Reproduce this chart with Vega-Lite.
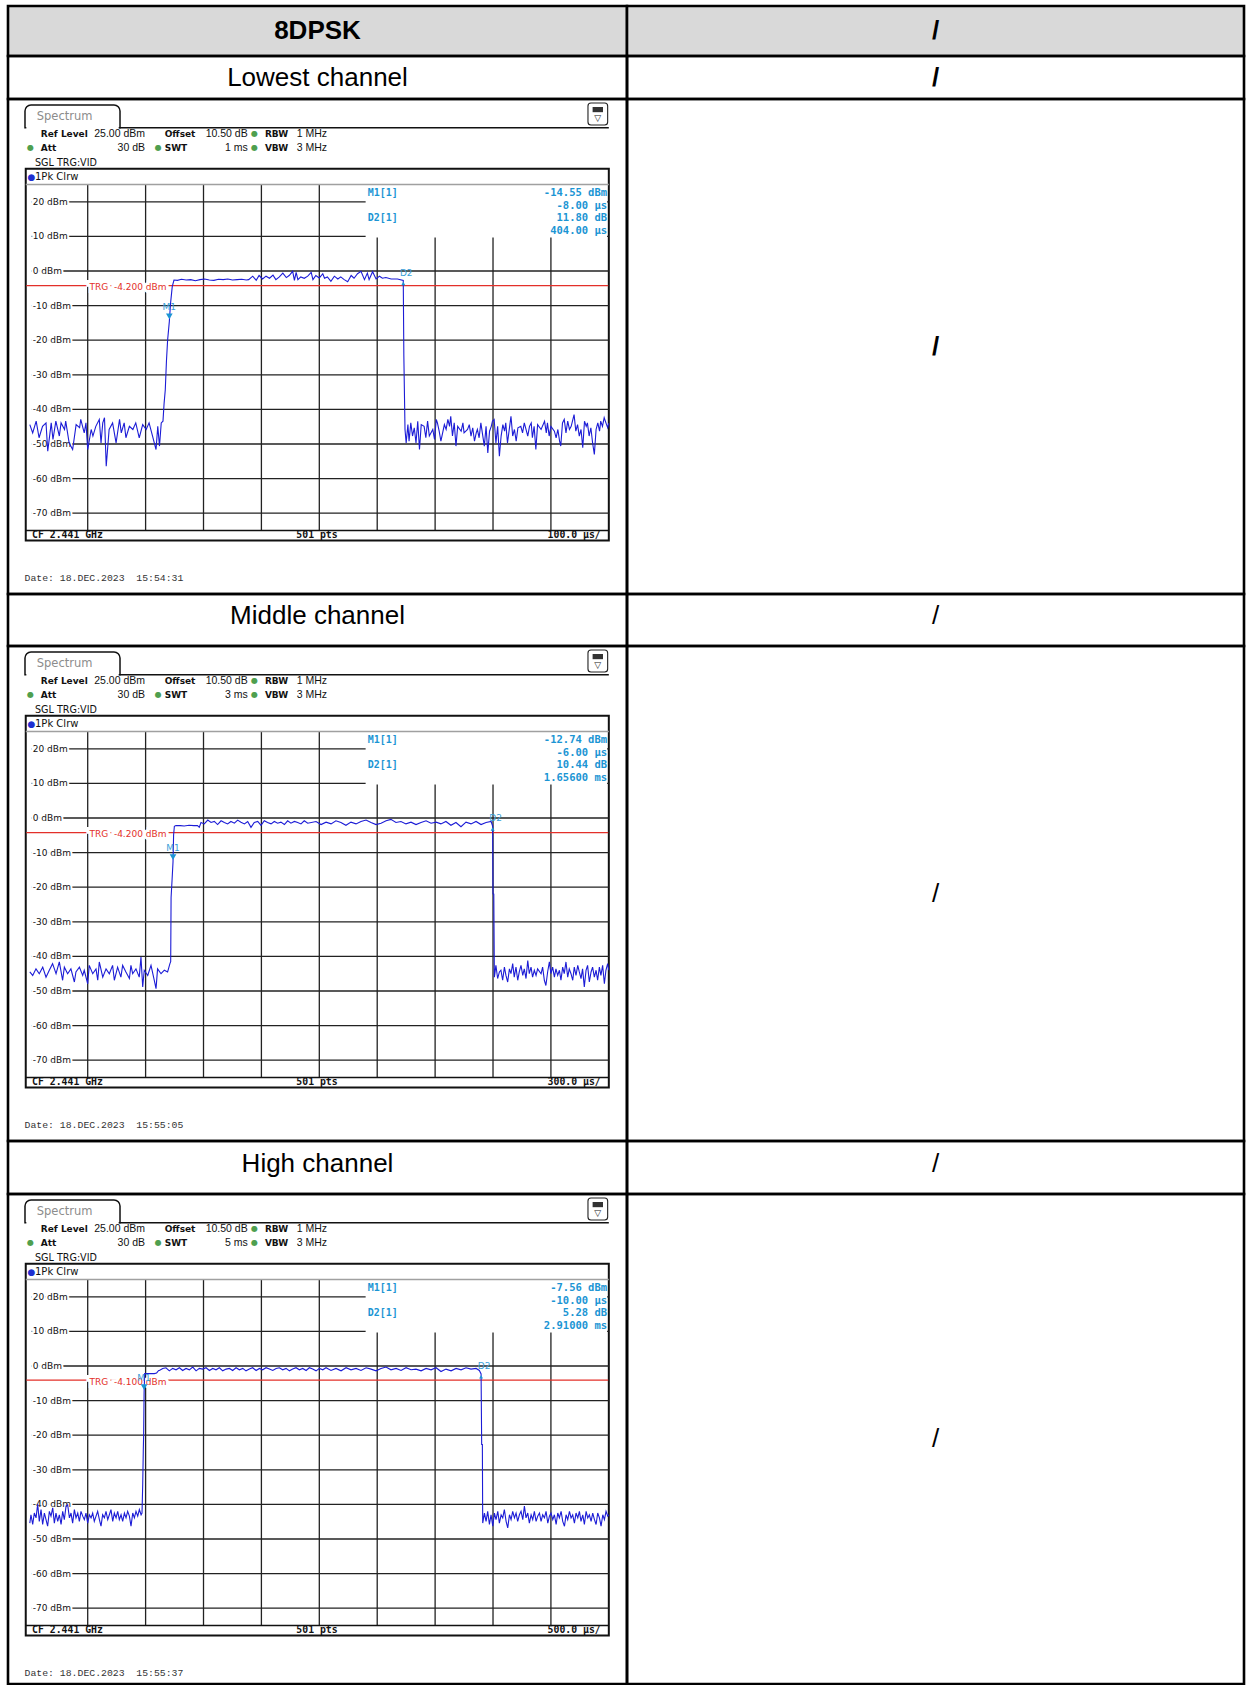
{
  "$schema": "https://vega.github.io/schema/vega-lite/v6.json",
  "padding": {"left": 6, "top": 4, "right": 0, "bottom": 0},
  "background": "#ffffff",
  "columns": 2,
  "spacing": 0,
  "bounds": "flush",
  "align": "each",
  "config": {
    "axis": {"disable": true},
    "legend": {"disable": true},
    "text": {"font": "DejaVu Sans", "fontSize": 9, "color": "#111111"},
    "rule": {"color": "#222222", "strokeWidth": 1.3}
  },
  "datasets": {
    "hgrid": [
      {"dbm": 20, "label": "20 dBm"}, {"dbm": 10, "label": "10 dBm"}, {"dbm": 0, "label": "0 dBm"},
      {"dbm": -10, "label": "-10 dBm"}, {"dbm": -20, "label": "-20 dBm"}, {"dbm": -30, "label": "-30 dBm"},
      {"dbm": -40, "label": "-40 dBm"}, {"dbm": -50, "label": "-50 dBm"}, {"dbm": -60, "label": "-60 dBm"},
      {"dbm": -70, "label": "-70 dBm"}
    ],
    "vgrid": [{"div": 1}, {"div": 2}, {"div": 3}, {"div": 4}, {"div": 5}, {"div": 6}, {"div": 7}, {"div": 8}, {"div": 9}],
    "trace1": [
      {"t":0,"p":-44.4},{"t":5,"p":-46.8},{"t":11,"p":-43.4},{"t":16,"p":-48.2},{"t":22,"p":-44.9},{"t":28,"p":-43.9},{"t":31,"p":-52.1},{"t":37,"p":-43.9},{"t":40,"p":-48.7},{"t":45,"p":-43.4},
      {"t":51,"p":-47.7},{"t":54,"p":-43.9},{"t":60,"p":-45.8},{"t":62,"p":-43.4},{"t":68,"p":-49.7},{"t":74,"p":-51.6},{"t":80,"p":-44.4},{"t":86,"p":-45.3},{"t":88,"p":-42.9},{"t":94,"p":-46.8},
      {"t":97,"p":-43.9},{"t":100,"p":-51.6},{"t":106,"p":-45.8},{"t":109,"p":-47.7},{"t":114,"p":-44.9},{"t":120,"p":-42.9},{"t":123,"p":-49.7},{"t":126,"p":-43.9},{"t":129,"p":-42.4},{"t":132,"p":-56.4},
      {"t":137,"p":-45.8},{"t":143,"p":-43.9},{"t":149,"p":-49.7},{"t":155,"p":-42.9},{"t":158,"p":-46.8},{"t":163,"p":-43.9},{"t":166,"p":-48.2},{"t":172,"p":-44.9},{"t":178,"p":-45.8},{"t":183,"p":-43.9},
      {"t":189,"p":-48.2},{"t":195,"p":-44.4},{"t":201,"p":-45.8},{"t":206,"p":-43.9},{"t":212,"p":-47.7},{"t":218,"p":-51.6},{"t":221,"p":-44.9},{"t":224,"p":-50.6},{"t":227,"p":-43.9},{"t":230,"p":-43.4},
      {"t":232,"p":-38.1},{"t":234,"p":-34.3},{"t":236,"p":-26},{"t":238,"p":-20},{"t":241,"p":-14.55},{"t":243,"p":-9.5},{"t":246,"p":-4.5},{"t":249,"p":-2.6},
      {"t":255,"p":-2.7},{"t":262,"p":-2.4},{"t":270,"p":-2.6},{"t":278,"p":-2.5},{"t":286,"p":-2.8},{"t":294,"p":-2.5},{"t":302,"p":-2.3},{"t":310,"p":-2.6},{"t":318,"p":-2.7},{"t":326,"p":-2.4},
      {"t":334,"p":-2.5},{"t":342,"p":-2.3},{"t":350,"p":-2.6},{"t":358,"p":-2.5},{"t":366,"p":-2.4},{"t":374,"p":-2.6},{"t":378,"p":-2.5},
      {"t":385,"p":-1.5},{"t":391,"p":-2.7},{"t":396,"p":-1.3},{"t":402,"p":-2.3},{"t":408,"p":-1.5},{"t":414,"p":-2.1},{"t":420,"p":-1.2},{"t":425,"p":-2.5},{"t":431,"p":-1.7},{"t":437,"p":-0.6},
      {"t":443,"p":-1.9},{"t":448,"p":-1.3},{"t":454,"p":-0.1},{"t":457,"p":-2.7},{"t":460,"p":-0.4},{"t":463,"p":-2.5},{"t":468,"p":-1.7},{"t":474,"p":-2.1},{"t":480,"p":-1.5},{"t":486,"p":-0.4},
      {"t":489,"p":-2.5},{"t":494,"p":-1.3},{"t":500,"p":-2.0},{"t":506,"p":-0.8},{"t":509,"p":-2.1},{"t":514,"p":-1.7},{"t":520,"p":-3.0},{"t":526,"p":-1.5},{"t":532,"p":-2.3},{"t":537,"p":-1.7},
      {"t":543,"p":-2.5},{"t":549,"p":-3.1},{"t":555,"p":-1.3},{"t":560,"p":-2.1},{"t":566,"p":-0.8},{"t":572,"p":-0.1},{"t":578,"p":-2.5},{"t":583,"p":-0.6},{"t":586,"p":-2.5},{"t":592,"p":-0.2},
      {"t":598,"p":-2.3},{"t":604,"p":-1.5},{"t":609,"p":-2.1},{"t":615,"p":-1.9},{"t":624,"p":-2.3},{"t":635,"p":-2.3},{"t":645,"p":-2.75},
      {"t":646,"p":-24.6},{"t":648,"p":-45.8},
      {"t":650,"p":-49.7},{"t":653,"p":-44.4},{"t":655,"p":-49.2},{"t":658,"p":-43.9},{"t":661,"p":-47.7},{"t":664,"p":-45.3},{"t":667,"p":-49.7},{"t":670,"p":-43.4},{"t":673,"p":-51.6},{"t":676,"p":-44.4},
      {"t":681,"p":-44.9},{"t":684,"p":-48.2},{"t":687,"p":-43.4},{"t":690,"p":-47.7},{"t":696,"p":-45.8},{"t":699,"p":-48.7},{"t":702,"p":-42.9},{"t":704,"p":-43.9},{"t":707,"p":-46.3},{"t":710,"p":-49.2},
      {"t":716,"p":-44.4},{"t":719,"p":-45.8},{"t":722,"p":-42.9},{"t":725,"p":-44.9},{"t":727,"p":-42.0},{"t":730,"p":-47.7},{"t":733,"p":-43.9},{"t":736,"p":-50.6},{"t":739,"p":-44.9},{"t":745,"p":-46.3},
      {"t":748,"p":-43.9},{"t":750,"p":-46.8},{"t":756,"p":-45.8},{"t":759,"p":-44.4},{"t":762,"p":-47.7},{"t":765,"p":-45.3},{"t":768,"p":-49.2},{"t":771,"p":-46.8},{"t":773,"p":-45.8},{"t":776,"p":-48.2},
      {"t":779,"p":-43.9},{"t":782,"p":-47.3},{"t":785,"p":-50.6},{"t":788,"p":-44.9},{"t":791,"p":-52.6},{"t":794,"p":-46.3},{"t":797,"p":-44.9},{"t":799,"p":-43.4},{"t":802,"p":-42.9},{"t":805,"p":-49.7},
      {"t":808,"p":-44.9},{"t":811,"p":-53.5},{"t":814,"p":-47.7},{"t":817,"p":-44.4},{"t":820,"p":-46.3},{"t":822,"p":-43.9},{"t":825,"p":-49.7},{"t":831,"p":-42.0},{"t":834,"p":-47.7},{"t":837,"p":-45.8},
      {"t":840,"p":-49.2},{"t":843,"p":-45.3},{"t":848,"p":-44.9},{"t":851,"p":-46.8},{"t":854,"p":-43.9},{"t":857,"p":-45.8},{"t":860,"p":-47.7},{"t":863,"p":-44.9},{"t":866,"p":-43.9},{"t":868,"p":-48.2},
      {"t":871,"p":-44.9},{"t":874,"p":-51.6},{"t":877,"p":-44.4},{"t":883,"p":-45.8},{"t":889,"p":-43.4},{"t":892,"p":-46.8},{"t":894,"p":-43.9},{"t":897,"p":-47.7},{"t":900,"p":-44.9},{"t":906,"p":-46.3},
      {"t":909,"p":-48.2},{"t":912,"p":-45.8},{"t":915,"p":-49.2},{"t":917,"p":-50.6},{"t":920,"p":-43.9},{"t":923,"p":-42.9},{"t":926,"p":-46.8},{"t":929,"p":-43.4},{"t":932,"p":-45.8},{"t":935,"p":-44.9},
      {"t":940,"p":-41.5},{"t":943,"p":-46.3},{"t":946,"p":-44.4},{"t":949,"p":-47.7},{"t":952,"p":-45.8},{"t":955,"p":-51.1},{"t":958,"p":-43.4},{"t":961,"p":-44.9},{"t":963,"p":-43.9},{"t":966,"p":-47.7},
      {"t":969,"p":-45.3},{"t":972,"p":-49.7},{"t":975,"p":-53.0},{"t":978,"p":-45.8},{"t":981,"p":-43.9},{"t":984,"p":-46.3},{"t":986,"p":-43.4},{"t":989,"p":-44.9},{"t":992,"p":-42.4},{"t":995,"p":-43.9},
      {"t":998,"p":-45.3},{"t":1000,"p":-44.0}
    ],
    "trace2": [
      {"t":0,"p":-44.5},{"t":15,"p":-45.5},{"t":32,"p":-43.6},{"t":49,"p":-45.0},{"t":67,"p":-43.1},{"t":84,"p":-46.0},{"t":101,"p":-44.0},{"t":118,"p":-42.1},{"t":136,"p":-45.0},{"t":153,"p":-41.6},
      {"t":170,"p":-46.9},{"t":179,"p":-43.1},{"t":196,"p":-45.0},{"t":213,"p":-43.6},{"t":231,"p":-47.4},{"t":239,"p":-44.5},{"t":257,"p":-43.1},{"t":274,"p":-45.5},{"t":282,"p":-44.0},{"t":300,"p":-47.9},
      {"t":308,"p":-42.6},{"t":326,"p":-45.0},{"t":343,"p":-43.6},{"t":352,"p":-46.9},{"t":360,"p":-41.6},{"t":378,"p":-46.0},{"t":395,"p":-43.6},{"t":412,"p":-45.0},{"t":429,"p":-42.6},{"t":438,"p":-46.9},
      {"t":455,"p":-43.1},{"t":472,"p":-46.0},{"t":481,"p":-42.6},{"t":498,"p":-44.5},{"t":516,"p":-46.4},{"t":524,"p":-42.6},{"t":533,"p":-45.0},{"t":550,"p":-43.6},{"t":567,"p":-46.0},{"t":576,"p":-40.2},
      {"t":585,"p":-48.8},{"t":593,"p":-44.0},{"t":611,"p":-45.5},{"t":628,"p":-42.6},{"t":645,"p":-46.9},{"t":654,"p":-49.3},{"t":662,"p":-43.6},{"t":680,"p":-45.0},{"t":697,"p":-44.0},{"t":714,"p":-44.5},
      {"t":726,"p":-42.1},{"t":730,"p":-41.5},{"t":732,"p":-23},{"t":737,"p":-18},{"t":742,"p":-12.74},{"t":745,"p":-5},{"t":749,"p":-2.4},
      {"t":757,"p":-2.2},{"t":780,"p":-2.2},{"t":800,"p":-2.3},{"t":825,"p":-2.1},{"t":850,"p":-2.2},{"t":869,"p":-2.2},
      {"t":878,"p":-2.7},{"t":887,"p":-1.3},{"t":904,"p":-1.7},{"t":922,"p":-0.6},{"t":939,"p":-1.3},{"t":956,"p":-1.0},{"t":973,"p":-1.9},{"t":991,"p":-0.8},{"t":1008,"p":-1.3},{"t":1025,"p":-1.7},
      {"t":1042,"p":-1.0},{"t":1060,"p":-1.5},{"t":1077,"p":-0.6},{"t":1094,"p":-1.2},{"t":1112,"p":-1.7},{"t":1129,"p":-1.0},{"t":1146,"p":-2.7},{"t":1163,"p":-1.3},{"t":1181,"p":-1.0},{"t":1198,"p":-2.1},
      {"t":1215,"p":-0.8},{"t":1232,"p":-1.3},{"t":1250,"p":-1.7},{"t":1267,"p":-1.0},{"t":1284,"p":-1.5},{"t":1301,"p":-1.2},{"t":1319,"p":-1.9},{"t":1336,"p":-0.8},{"t":1353,"p":-1.5},{"t":1371,"p":-1.0},
      {"t":1388,"p":-1.3},{"t":1405,"p":-1.7},{"t":1422,"p":-0.8},{"t":1440,"p":-1.5},{"t":1483,"p":-1.0},{"t":1509,"p":-1.9},{"t":1535,"p":-1.2},{"t":1561,"p":-1.7},{"t":1586,"p":-0.8},{"t":1612,"p":-1.3},
      {"t":1638,"p":-2.1},{"t":1664,"p":-1.2},{"t":1690,"p":-1.7},{"t":1716,"p":-1.0},{"t":1742,"p":-0.6},{"t":1768,"p":-1.3},{"t":1794,"p":-1.9},{"t":1820,"p":-1.5},{"t":1846,"p":-0.8},{"t":1871,"p":-0.4},
      {"t":1897,"p":-1.3},{"t":1923,"p":-1.0},{"t":1949,"p":-1.7},{"t":1975,"p":-1.2},{"t":2001,"p":-1.9},{"t":2027,"p":-1.3},{"t":2053,"p":-0.8},{"t":2079,"p":-1.5},{"t":2105,"p":-1.2},{"t":2130,"p":-1.7},
      {"t":2156,"p":-1.0},{"t":2182,"p":-2.1},{"t":2208,"p":-1.3},{"t":2234,"p":-2.5},{"t":2260,"p":-1.2},{"t":2286,"p":-1.7},{"t":2312,"p":-1.0},{"t":2338,"p":-1.9},{"t":2364,"p":-1.3},{"t":2390,"p":-1.0},
      {"t":2398,"p":-2.3},{"t":2400,"p":-21.9},{"t":2404,"p":-22.0},{"t":2407,"p":-46.0},
      {"t":2415,"p":-42.6},{"t":2424,"p":-46.4},{"t":2433,"p":-44.5},{"t":2441,"p":-44.0},{"t":2450,"p":-46.9},{"t":2459,"p":-43.1},{"t":2467,"p":-45.5},{"t":2476,"p":-47.4},{"t":2485,"p":-43.6},{"t":2493,"p":-45.0},
      {"t":2502,"p":-42.1},{"t":2510,"p":-46.0},{"t":2519,"p":-43.1},{"t":2528,"p":-46.9},{"t":2536,"p":-44.5},{"t":2545,"p":-42.6},{"t":2554,"p":-45.5},{"t":2562,"p":-43.6},{"t":2571,"p":-46.4},{"t":2580,"p":-41.2},
      {"t":2588,"p":-45.0},{"t":2597,"p":-43.1},{"t":2605,"p":-46.0},{"t":2614,"p":-44.0},{"t":2623,"p":-45.5},{"t":2631,"p":-43.6},{"t":2649,"p":-45.0},{"t":2657,"p":-43.1},{"t":2666,"p":-46.9},{"t":2674,"p":-48.4},
      {"t":2683,"p":-44.5},{"t":2692,"p":-41.6},{"t":2700,"p":-45.0},{"t":2709,"p":-43.1},{"t":2718,"p":-46.0},{"t":2726,"p":-43.6},{"t":2735,"p":-45.5},{"t":2744,"p":-44.0},{"t":2752,"p":-46.9},{"t":2761,"p":-43.1},
      {"t":2769,"p":-45.0},{"t":2778,"p":-41.6},{"t":2787,"p":-46.0},{"t":2795,"p":-43.6},{"t":2804,"p":-45.0},{"t":2813,"p":-46.9},{"t":2821,"p":-43.1},{"t":2830,"p":-45.5},{"t":2839,"p":-42.6},{"t":2847,"p":-44.5},
      {"t":2856,"p":-46.4},{"t":2864,"p":-43.6},{"t":2873,"p":-48.8},{"t":2882,"p":-44.0},{"t":2890,"p":-42.6},{"t":2899,"p":-47.4},{"t":2908,"p":-44.5},{"t":2916,"p":-43.1},{"t":2925,"p":-46.0},{"t":2934,"p":-44.0},
      {"t":2942,"p":-46.9},{"t":2951,"p":-43.1},{"t":2959,"p":-45.5},{"t":2968,"p":-42.6},{"t":2977,"p":-47.9},{"t":2985,"p":-44.0},{"t":2994,"p":-42.1},{"t":3000,"p":-44.0}
    ],
    "trace3": [
      {"t":0,"p":-45.4},{"t":10,"p":-43.0},{"t":25,"p":-45.8},{"t":39,"p":-42.5},{"t":54,"p":-43.9},{"t":68,"p":-39.9},{"t":82,"p":-44.9},{"t":97,"p":-41.5},{"t":111,"p":-45.8},{"t":126,"p":-42.5},
      {"t":140,"p":-44.4},{"t":154,"p":-46.3},{"t":169,"p":-42.0},{"t":183,"p":-43.4},{"t":198,"p":-41.0},{"t":212,"p":-45.4},{"t":226,"p":-42.5},{"t":241,"p":-44.9},{"t":255,"p":-43.0},{"t":270,"p":-45.8},
      {"t":284,"p":-42.0},{"t":298,"p":-44.4},{"t":313,"p":-40.5},{"t":327,"p":-40.1},{"t":342,"p":-43.9},{"t":356,"p":-42.5},{"t":370,"p":-45.4},{"t":385,"p":-41.5},{"t":399,"p":-43.9},{"t":414,"p":-42.5},
      {"t":428,"p":-44.9},{"t":442,"p":-42.0},{"t":457,"p":-43.4},{"t":471,"p":-44.4},{"t":485,"p":-42.5},{"t":500,"p":-45.4},{"t":514,"p":-43.0},{"t":529,"p":-43.9},{"t":543,"p":-42.5},{"t":557,"p":-44.9},
      {"t":572,"p":-43.4},{"t":586,"p":-42.0},{"t":601,"p":-44.4},{"t":615,"p":-46.3},{"t":629,"p":-43.0},{"t":644,"p":-43.9},{"t":658,"p":-42.0},{"t":673,"p":-44.4},{"t":687,"p":-43.0},{"t":701,"p":-41.5},
      {"t":716,"p":-44.9},{"t":730,"p":-42.5},{"t":745,"p":-43.9},{"t":759,"p":-42.0},{"t":773,"p":-44.4},{"t":788,"p":-43.0},{"t":802,"p":-44.9},{"t":817,"p":-42.5},{"t":831,"p":-43.9},{"t":845,"p":-42.0},
      {"t":860,"p":-43.4},{"t":874,"p":-46.3},{"t":889,"p":-42.5},{"t":903,"p":-43.9},{"t":917,"p":-42.0},{"t":932,"p":-43.4},{"t":946,"p":-41.5},{"t":961,"p":-43.0},{"t":969,"p":-42.5},
      {"t":975,"p":-34.3},{"t":980,"p":-24.6},{"t":983,"p":-20},{"t":987,"p":-7.56},{"t":992,"p":-2.2},{"t":1075,"p":-2.2},{"t":1095,"p":-2.0},{"t":1113,"p":-1.3},
      {"t":1119,"p":-1.3},{"t":1148,"p":-0.7},{"t":1176,"p":-0.5},{"t":1205,"p":-1.4},{"t":1234,"p":-0.7},{"t":1263,"p":-1.1},{"t":1292,"p":-0.5},{"t":1320,"p":-1.3},{"t":1349,"p":-0.7},{"t":1378,"p":-1.1},
      {"t":1407,"p":-0.3},{"t":1436,"p":-1.4},{"t":1464,"p":-0.7},{"t":1493,"p":-0.9},{"t":1522,"p":-0.5},{"t":1551,"p":-1.3},{"t":1580,"p":-0.7},{"t":1608,"p":-1.1},{"t":1637,"p":-0.5},{"t":1666,"p":-1.4},
      {"t":1695,"p":-0.9},{"t":1724,"p":-0.7},{"t":1752,"p":-1.3},{"t":1781,"p":-0.5},{"t":1810,"p":-1.1},{"t":1839,"p":-0.7},{"t":1867,"p":-1.4},{"t":1896,"p":-0.9},{"t":1925,"p":-0.5},{"t":1954,"p":-1.3},
      {"t":1983,"p":-0.7},{"t":2011,"p":-1.1},{"t":2040,"p":-0.5},{"t":2069,"p":-0.9},{"t":2098,"p":-1.3},{"t":2127,"p":-0.7},{"t":2155,"p":-0.5},{"t":2184,"p":-1.1},{"t":2213,"p":-0.7},{"t":2242,"p":-1.4},
      {"t":2270,"p":-0.9},{"t":2299,"p":-0.5},{"t":2328,"p":-1.1},{"t":2357,"p":-0.7},{"t":2386,"p":-1.3},{"t":2414,"p":-0.5},{"t":2443,"p":-0.9},{"t":2472,"p":-1.4},{"t":2501,"p":-0.7},{"t":2530,"p":-1.1},
      {"t":2558,"p":-0.5},{"t":2601,"p":-1.3},{"t":2644,"p":-0.7},{"t":2688,"p":-1.4},{"t":2731,"p":-0.5},{"t":2774,"p":-1.1},{"t":2817,"p":-0.7},{"t":2860,"p":-1.3},{"t":2904,"p":-0.5},{"t":2947,"p":-0.9},
      {"t":2990,"p":-1.4},{"t":3033,"p":-0.7},{"t":3076,"p":-0.3},{"t":3119,"p":-1.1},{"t":3163,"p":-0.7},{"t":3206,"p":-1.3},{"t":3249,"p":-0.5},{"t":3292,"p":-1.1},{"t":3335,"p":-0.9},{"t":3379,"p":-1.4},
      {"t":3422,"p":-0.7},{"t":3465,"p":-1.1},{"t":3508,"p":-0.5},{"t":3551,"p":-1.6},{"t":3594,"p":-0.9},{"t":3638,"p":-1.4},{"t":3681,"p":-0.7},{"t":3724,"p":-1.1},{"t":3767,"p":-0.5},{"t":3810,"p":-0.9},
      {"t":3854,"p":-0.7},{"t":3882,"p":-1.3},{"t":3897,"p":-2.28},{"t":3902,"p":-22.7},{"t":3908,"p":-22.7},{"t":3911,"p":-45.4},
      {"t":3926,"p":-42.5},{"t":3940,"p":-44.9},{"t":3954,"p":-42.0},{"t":3969,"p":-45.8},{"t":3983,"p":-43.0},{"t":3998,"p":-46.3},{"t":4012,"p":-42.5},{"t":4026,"p":-44.4},{"t":4041,"p":-42.0},{"t":4055,"p":-45.4},
      {"t":4070,"p":-43.0},{"t":4084,"p":-43.9},{"t":4098,"p":-41.5},{"t":4113,"p":-44.9},{"t":4127,"p":-46.8},{"t":4142,"p":-43.0},{"t":4156,"p":-44.4},{"t":4170,"p":-42.0},{"t":4185,"p":-43.9},{"t":4199,"p":-42.5},
      {"t":4213,"p":-44.9},{"t":4228,"p":-43.0},{"t":4242,"p":-42.0},{"t":4257,"p":-44.4},{"t":4271,"p":-40.5},{"t":4285,"p":-43.9},{"t":4300,"p":-42.5},{"t":4314,"p":-45.4},{"t":4329,"p":-43.0},{"t":4343,"p":-44.4},
      {"t":4357,"p":-42.0},{"t":4372,"p":-44.9},{"t":4386,"p":-43.4},{"t":4401,"p":-42.5},{"t":4415,"p":-44.9},{"t":4429,"p":-43.0},{"t":4444,"p":-43.9},{"t":4458,"p":-42.0},{"t":4473,"p":-45.4},{"t":4487,"p":-43.4},
      {"t":4501,"p":-42.5},{"t":4516,"p":-44.4},{"t":4530,"p":-43.0},{"t":4545,"p":-45.8},{"t":4559,"p":-42.5},{"t":4573,"p":-43.9},{"t":4588,"p":-42.0},{"t":4602,"p":-44.9},{"t":4617,"p":-46.3},{"t":4631,"p":-43.0},
      {"t":4645,"p":-44.4},{"t":4660,"p":-42.0},{"t":4674,"p":-43.9},{"t":4688,"p":-43.0},{"t":4703,"p":-45.4},{"t":4717,"p":-42.5},{"t":4732,"p":-43.9},{"t":4746,"p":-42.0},{"t":4760,"p":-44.9},{"t":4775,"p":-43.0},
      {"t":4789,"p":-45.8},{"t":4804,"p":-42.0},{"t":4818,"p":-43.9},{"t":4832,"p":-43.0},{"t":4847,"p":-44.9},{"t":4861,"p":-42.5},{"t":4876,"p":-44.4},{"t":4890,"p":-45.8},{"t":4904,"p":-42.5},{"t":4919,"p":-43.9},
      {"t":4933,"p":-46.3},{"t":4948,"p":-43.0},{"t":4962,"p":-44.4},{"t":4976,"p":-42.0},{"t":4991,"p":-43.4},{"t":5000,"p":-43.0}
    ]
  },
  "concat": [
    {"width": 619, "height": 50, "view": {"stroke": "#000000", "strokeWidth": 2.6, "fill": "#d9d9d9"},
     "data": {"values": [{"label": "8DPSK"}]},
     "mark": {"type": "text", "font": "Liberation Sans", "fontSize": 26, "fontWeight": "bold", "color": "#000000"},
     "encoding": {"text": {"field": "label"}}},
    {"width": 617, "height": 50, "view": {"stroke": "#000000", "strokeWidth": 2.6, "fill": "#d9d9d9"},
     "data": {"values": [{"label": "/"}]},
     "mark": {"type": "text", "font": "Liberation Sans", "fontSize": 26, "fontWeight": "bold", "color": "#000000"},
     "encoding": {"text": {"field": "label"}}},
    {"width": 619, "height": 43, "view": {"stroke": "#000000", "strokeWidth": 2.6},
     "data": {"values": [{"label": "Lowest channel"}]},
     "mark": {"type": "text", "font": "Liberation Sans", "fontSize": 26, "color": "#000000"},
     "encoding": {"text": {"field": "label"}}},
    {"width": 617, "height": 43, "view": {"stroke": "#000000", "strokeWidth": 2.6},
     "data": {"values": [{"label": "/"}]},
     "mark": {"type": "text", "font": "Liberation Sans", "fontSize": 26, "fontWeight": "bold", "color": "#000000"},
     "encoding": {"text": {"field": "label"}}},
    {
      "width": 619, "height": 495, "view": {"stroke": "#000000", "strokeWidth": 2.6},
      "resolve": {"scale": {"x": "independent"}},
      "layer": [
        {
          "data": {"values": [{}]},
          "layer": [
            {"mark": {"type": "rect", "fill": "#ffffff", "stroke": "#111111", "strokeWidth": 2}, "encoding": {"x": {"datum": -0.07, "scale": {"domain": [-0.3765, 10.314], "nice": false, "zero": false}}, "x2": {"datum": 10.0}, "y": {"datum": 29.57, "scale": {"domain": [-93.35, 49.71], "nice": false, "zero": false}}, "y2": {"datum": -77.9}}},
            {"mark": {"type": "rect", "fill": "#ffffff", "stroke": "#111111", "strokeWidth": 1.5, "cornerRadiusTopLeft": 6, "cornerRadiusTopRight": 6}, "encoding": {"x": {"datum": -0.083, "scale": {"domain": [-0.3765, 10.314], "nice": false, "zero": false}}, "x2": {"datum": 1.558}, "y": {"datum": 47.98, "scale": {"domain": [-93.35, 49.71], "nice": false, "zero": false}}, "y2": {"datum": 41.42}}},
            {"mark": {"type": "rule", "color": "#ffffff", "strokeWidth": 3}, "encoding": {"x": {"datum": -0.06, "scale": {"domain": [-0.3765, 10.314], "nice": false, "zero": false}}, "x2": {"datum": 1.535}, "y": {"datum": 41.42, "scale": {"domain": [-93.35, 49.71], "nice": false, "zero": false}}}},
            {"mark": {"type": "rule", "color": "#111111", "strokeWidth": 1.5}, "encoding": {"x": {"datum": 1.545, "scale": {"domain": [-0.3765, 10.314], "nice": false, "zero": false}}, "x2": {"datum": 10.0}, "y": {"datum": 41.42, "scale": {"domain": [-93.35, 49.71], "nice": false, "zero": false}}}},
            {"mark": {"type": "rect", "fill": "#ffffff", "stroke": "#222222", "strokeWidth": 1.1, "cornerRadius": 3}, "encoding": {"x": {"datum": 9.64, "scale": {"domain": [-0.3765, 10.314], "nice": false, "zero": false}}, "x2": {"datum": 9.98}, "y": {"datum": 48.55, "scale": {"domain": [-93.35, 49.71], "nice": false, "zero": false}}, "y2": {"datum": 42.2}}},
            {"mark": {"type": "rect", "fill": "#333333"}, "encoding": {"x": {"datum": 9.72, "scale": {"domain": [-0.3765, 10.314], "nice": false, "zero": false}}, "x2": {"datum": 9.9}, "y": {"datum": 47.4, "scale": {"domain": [-93.35, 49.71], "nice": false, "zero": false}}, "y2": {"datum": 45.9}}},
            {"mark": {"type": "text", "text": "▽", "fontSize": 9, "color": "#222222"}, "encoding": {"x": {"datum": 9.81, "scale": {"domain": [-0.3765, 10.314], "nice": false, "zero": false}}, "y": {"datum": 44.1, "scale": {"domain": [-93.35, 49.71], "nice": false, "zero": false}}}},
            {"mark": {"type": "text", "text": "Spectrum", "align": "left", "fontSize": 11.5, "color": "#8c8c8c"}, "encoding": {"x": {"datum": 0.12, "scale": {"domain": [-0.3765, 10.314], "nice": false, "zero": false}}, "y": {"datum": 44.5, "scale": {"domain": [-93.35, 49.71], "nice": false, "zero": false}}}},
            {"mark": {"type": "text", "text": ["Ref Level", "Att"], "align": "left", "fontSize": 9, "fontWeight": "bold", "lineHeight": 14}, "encoding": {"x": {"datum": 0.19, "scale": {"domain": [-0.3765, 10.314], "nice": false, "zero": false}}, "y": {"datum": 39.5, "scale": {"domain": [-93.35, 49.71], "nice": false, "zero": false}}}},
            {"mark": {"type": "text", "text": ["25.00 dBm", "30 dB"], "align": "right", "font": "Liberation Sans", "fontSize": 10.5, "lineHeight": 14}, "encoding": {"x": {"datum": 1.99, "scale": {"domain": [-0.3765, 10.314], "nice": false, "zero": false}}, "y": {"datum": 39.5, "scale": {"domain": [-93.35, 49.71], "nice": false, "zero": false}}}},
            {"mark": {"type": "text", "text": "Offset", "align": "left", "fontSize": 9, "fontWeight": "bold"}, "encoding": {"x": {"datum": 2.33, "scale": {"domain": [-0.3765, 10.314], "nice": false, "zero": false}}, "y": {"datum": 39.5, "scale": {"domain": [-93.35, 49.71], "nice": false, "zero": false}}}},
            {"mark": {"type": "text", "text": "SWT", "align": "left", "fontSize": 9, "fontWeight": "bold"}, "encoding": {"x": {"datum": 2.33, "scale": {"domain": [-0.3765, 10.314], "nice": false, "zero": false}}, "y": {"datum": 35.46, "scale": {"domain": [-93.35, 49.71], "nice": false, "zero": false}}}},
            {"mark": {"type": "text", "text": ["10.50 dB", "1 ms"], "align": "right", "font": "Liberation Sans", "fontSize": 10.5, "lineHeight": 14}, "encoding": {"x": {"datum": 3.763, "scale": {"domain": [-0.3765, 10.314], "nice": false, "zero": false}}, "y": {"datum": 39.5, "scale": {"domain": [-93.35, 49.71], "nice": false, "zero": false}}}},
            {"mark": {"type": "text", "text": ["RBW", "VBW"], "align": "left", "fontSize": 9, "fontWeight": "bold", "lineHeight": 14}, "encoding": {"x": {"datum": 4.06, "scale": {"domain": [-0.3765, 10.314], "nice": false, "zero": false}}, "y": {"datum": 39.5, "scale": {"domain": [-93.35, 49.71], "nice": false, "zero": false}}}},
            {"mark": {"type": "text", "text": ["1 MHz", "3 MHz"], "align": "left", "font": "Liberation Sans", "fontSize": 10.5, "lineHeight": 14}, "encoding": {"x": {"datum": 4.61, "scale": {"domain": [-0.3765, 10.314], "nice": false, "zero": false}}, "y": {"datum": 39.5, "scale": {"domain": [-93.35, 49.71], "nice": false, "zero": false}}}},
            {"mark": {"type": "text", "text": ["●", "●"], "fontSize": 8, "color": "#4f9f4f", "lineHeight": 14}, "encoding": {"x": {"datum": 3.88, "scale": {"domain": [-0.3765, 10.314], "nice": false, "zero": false}}, "y": {"datum": 39.5, "scale": {"domain": [-93.35, 49.71], "nice": false, "zero": false}}}},
            {"mark": {"type": "text", "text": "●", "fontSize": 8, "color": "#4f9f4f"}, "encoding": {"x": {"datum": 0.01, "scale": {"domain": [-0.3765, 10.314], "nice": false, "zero": false}}, "y": {"datum": 35.46, "scale": {"domain": [-93.35, 49.71], "nice": false, "zero": false}}}},
            {"mark": {"type": "text", "text": "●", "fontSize": 8, "color": "#4f9f4f"}, "encoding": {"x": {"datum": 2.22, "scale": {"domain": [-0.3765, 10.314], "nice": false, "zero": false}}, "y": {"datum": 35.46, "scale": {"domain": [-93.35, 49.71], "nice": false, "zero": false}}}},
            {"mark": {"type": "text", "text": "SGL TRG:VID", "align": "left", "fontSize": 9.6}, "encoding": {"x": {"datum": 0.09, "scale": {"domain": [-0.3765, 10.314], "nice": false, "zero": false}}, "y": {"datum": 31.3, "scale": {"domain": [-93.35, 49.71], "nice": false, "zero": false}}}},
            {"mark": {"type": "text", "text": "●", "fontSize": 9, "color": "#1f2fd0"}, "encoding": {"x": {"datum": 0.03, "scale": {"domain": [-0.3765, 10.314], "nice": false, "zero": false}}, "y": {"datum": 27.2, "scale": {"domain": [-93.35, 49.71], "nice": false, "zero": false}}}},
            {"mark": {"type": "text", "text": "1Pk Clrw", "align": "left", "fontSize": 10}, "encoding": {"x": {"datum": 0.09, "scale": {"domain": [-0.3765, 10.314], "nice": false, "zero": false}}, "y": {"datum": 27.2, "scale": {"domain": [-93.35, 49.71], "nice": false, "zero": false}}}},
            {"data": {"name": "vgrid"}, "mark": {"type": "rule"}, "encoding": {"x": {"field": "div", "type": "quantitative", "scale": {"domain": [-0.3765, 10.314], "nice": false, "zero": false}}, "y": {"datum": 25, "scale": {"domain": [-93.35, 49.71], "nice": false, "zero": false}}, "y2": {"datum": -75}}},
            {"data": {"name": "hgrid"}, "mark": {"type": "rule"}, "encoding": {"y": {"field": "dbm", "type": "quantitative", "scale": {"domain": [-93.35, 49.71], "nice": false, "zero": false}}, "x": {"datum": 0.03, "scale": {"domain": [-0.3765, 10.314], "nice": false, "zero": false}}, "x2": {"datum": 10}}},
            {"mark": {"type": "rule", "color": "#111111", "strokeWidth": 1.5}, "encoding": {"x": {"datum": -0.07, "scale": {"domain": [-0.3765, 10.314], "nice": false, "zero": false}}, "x2": {"datum": 10.0}, "y": {"datum": -75, "scale": {"domain": [-93.35, 49.71], "nice": false, "zero": false}}}},
            {"mark": {"type": "rect", "fill": "#ffffff"}, "encoding": {"x": {"datum": 5.8, "scale": {"domain": [-0.3765, 10.314], "nice": false, "zero": false}}, "x2": {"datum": 9.97}, "y": {"datum": 25.3, "scale": {"domain": [-93.35, 49.71], "nice": false, "zero": false}}, "y2": {"datum": 9.65}}},
            {"mark": {"type": "rule", "color": "#a0a0a0", "strokeWidth": 1.5}, "encoding": {"x": {"datum": -0.07, "scale": {"domain": [-0.3765, 10.314], "nice": false, "zero": false}}, "x2": {"datum": 10.0}, "y": {"datum": 25, "scale": {"domain": [-93.35, 49.71], "nice": false, "zero": false}}}},
            {"mark": {"type": "rule", "color": "#e3302a", "strokeWidth": 1.2}, "encoding": {"x": {"datum": -0.06, "scale": {"domain": [-0.3765, 10.314], "nice": false, "zero": false}}, "x2": {"datum": 9.99}, "y": {"datum": -4.2, "scale": {"domain": [-93.35, 49.71], "nice": false, "zero": false}}}},
            {"data": {"name": "hgrid"}, "mark": {"type": "text", "align": "left", "color": "#ffffff", "stroke": "#ffffff", "strokeWidth": 4}, "encoding": {"x": {"datum": 0.05, "scale": {"domain": [-0.3765, 10.314], "nice": false, "zero": false}}, "y": {"field": "dbm", "type": "quantitative", "scale": {"domain": [-93.35, 49.71], "nice": false, "zero": false}}, "text": {"field": "label"}}},
            {"data": {"name": "hgrid"}, "mark": {"type": "text", "align": "left", "color": "#111111"}, "encoding": {"x": {"datum": 0.05, "scale": {"domain": [-0.3765, 10.314], "nice": false, "zero": false}}, "y": {"field": "dbm", "type": "quantitative", "scale": {"domain": [-93.35, 49.71], "nice": false, "zero": false}}, "text": {"field": "label"}}},
            {"mark": {"type": "text", "text": "TRG\u00a0 -4.200 dBm", "align": "left", "color": "#ffffff", "stroke": "#ffffff", "strokeWidth": 6}, "encoding": {"x": {"datum": 1.03, "scale": {"domain": [-0.3765, 10.314], "nice": false, "zero": false}}, "y": {"datum": -4.6, "scale": {"domain": [-93.35, 49.71], "nice": false, "zero": false}}}},
            {"mark": {"type": "text", "text": "TRG\u00a0 -4.200 dBm", "align": "left", "color": "#e3302a"}, "encoding": {"x": {"datum": 1.03, "scale": {"domain": [-0.3765, 10.314], "nice": false, "zero": false}}, "y": {"datum": -4.6, "scale": {"domain": [-93.35, 49.71], "nice": false, "zero": false}}}},
            {"mark": {"type": "text", "text": "M1[1]", "align": "left", "font": "DejaVu Sans Mono", "fontSize": 10, "fontWeight": "bold", "color": "#1b95d4"}, "encoding": {"x": {"datum": 5.836, "scale": {"domain": [-0.3765, 10.314], "nice": false, "zero": false}}, "y": {"datum": 22.6, "scale": {"domain": [-93.35, 49.71], "nice": false, "zero": false}}}},
            {"mark": {"type": "text", "text": "D2[1]", "align": "left", "font": "DejaVu Sans Mono", "fontSize": 10, "fontWeight": "bold", "color": "#1b95d4"}, "encoding": {"x": {"datum": 5.836, "scale": {"domain": [-0.3765, 10.314], "nice": false, "zero": false}}, "y": {"datum": 15.2, "scale": {"domain": [-93.35, 49.71], "nice": false, "zero": false}}}},
            {"mark": {"type": "text", "text": ["-14.55 dBm", "-8.00 µs", "11.80 dB", "404.00 µs"], "align": "right", "font": "DejaVu Sans Mono", "fontSize": 10.5, "fontWeight": "bold", "color": "#1b95d4", "lineHeight": 12.8}, "encoding": {"x": {"datum": 9.97, "scale": {"domain": [-0.3765, 10.314], "nice": false, "zero": false}}, "y": {"datum": 22.6, "scale": {"domain": [-93.35, 49.71], "nice": false, "zero": false}}}},
            {"mark": {"type": "text", "text": "CF 2.441 GHz", "align": "left", "font": "DejaVu Sans Mono", "fontSize": 9.8, "fontWeight": "bold"}, "encoding": {"x": {"datum": 0.04, "scale": {"domain": [-0.3765, 10.314], "nice": false, "zero": false}}, "y": {"datum": -76.3, "scale": {"domain": [-93.35, 49.71], "nice": false, "zero": false}}}},
            {"mark": {"type": "text", "text": "501 pts", "font": "DejaVu Sans Mono", "fontSize": 9.8, "fontWeight": "bold"}, "encoding": {"x": {"datum": 4.96, "scale": {"domain": [-0.3765, 10.314], "nice": false, "zero": false}}, "y": {"datum": -76.3, "scale": {"domain": [-93.35, 49.71], "nice": false, "zero": false}}}},
            {"mark": {"type": "text", "text": "100.0 µs/", "align": "right", "font": "DejaVu Sans Mono", "fontSize": 9.8, "fontWeight": "bold"}, "encoding": {"x": {"datum": 9.86, "scale": {"domain": [-0.3765, 10.314], "nice": false, "zero": false}}, "y": {"datum": -76.3, "scale": {"domain": [-93.35, 49.71], "nice": false, "zero": false}}}},
            {"mark": {"type": "text", "text": "Date: 18.DEC.2023\u00a0 15:54:31", "align": "left", "font": "Liberation Mono", "fontSize": 9.8, "color": "#333333"}, "encoding": {"x": {"datum": -0.09, "scale": {"domain": [-0.3765, 10.314], "nice": false, "zero": false}}, "y": {"datum": -88.6, "scale": {"domain": [-93.35, 49.71], "nice": false, "zero": false}}}}
          ]
        },
        {
          "data": {"name": "trace1"},
          "layer": [
            {"mark": {"type": "line", "color": "#1c1cd6", "strokeWidth": 1.1}, "encoding": {"x": {"field": "t", "type": "quantitative", "scale": {"domain": [-37.65, 1031.4], "nice": false, "zero": false}}, "y": {"field": "p", "type": "quantitative", "scale": {"domain": [-93.35, 49.71], "nice": false, "zero": false}}}},
            {"data": {"values": [{"m": "M1", "t": 241, "p": -14.55}]}, "mark": {"type": "point", "shape": "triangle-down", "filled": true, "opacity": 1, "size": 45, "color": "#1b95d4", "yOffset": -5}, "encoding": {"x": {"field": "t", "type": "quantitative", "scale": {"domain": [-37.65, 1031.4], "nice": false, "zero": false}}, "y": {"field": "p", "type": "quantitative", "scale": {"domain": [-93.35, 49.71], "nice": false, "zero": false}}}},
            {"data": {"values": [{"m": "M1", "t": 241, "p": -14.55}]}, "mark": {"type": "text", "fontSize": 9, "color": "#3aa0d8", "dy": -14}, "encoding": {"x": {"field": "t", "type": "quantitative", "scale": {"domain": [-37.65, 1031.4], "nice": false, "zero": false}}, "y": {"field": "p", "type": "quantitative", "scale": {"domain": [-93.35, 49.71], "nice": false, "zero": false}}, "text": {"field": "m"}}},
            {"data": {"values": [{"m": "D2", "t": 645, "p": -2.75}]}, "mark": {"type": "point", "shape": "triangle-up", "filled": true, "opacity": 1, "size": 16, "color": "#1b95d4", "yOffset": 3}, "encoding": {"x": {"field": "t", "type": "quantitative", "scale": {"domain": [-37.65, 1031.4], "nice": false, "zero": false}}, "y": {"field": "p", "type": "quantitative", "scale": {"domain": [-93.35, 49.71], "nice": false, "zero": false}}}},
            {"data": {"values": [{"m": "D2", "t": 645, "p": -2.75}]}, "mark": {"type": "text", "fontSize": 9, "color": "#3aa0d8", "dx": 3, "dy": -8}, "encoding": {"x": {"field": "t", "type": "quantitative", "scale": {"domain": [-37.65, 1031.4], "nice": false, "zero": false}}, "y": {"field": "p", "type": "quantitative", "scale": {"domain": [-93.35, 49.71], "nice": false, "zero": false}}, "text": {"field": "m"}}}
          ]
        }
      ]
    },
    {"width": 617, "height": 495, "view": {"stroke": "#000000", "strokeWidth": 2.6},
     "data": {"values": [{"label": "/"}]},
     "mark": {"type": "text", "font": "Liberation Sans", "fontSize": 26, "fontWeight": "bold", "color": "#000000"},
     "encoding": {"text": {"field": "label"}}},
    {"width": 619, "height": 52, "view": {"stroke": "#000000", "strokeWidth": 2.6},
     "data": {"values": [{"label": "Middle channel"}]},
     "mark": {"type": "text", "font": "Liberation Sans", "fontSize": 26, "color": "#000000", "dy": -4},
     "encoding": {"text": {"field": "label"}}},
    {"width": 617, "height": 52, "view": {"stroke": "#000000", "strokeWidth": 2.6},
     "data": {"values": [{"label": "/"}]},
     "mark": {"type": "text", "font": "Liberation Sans", "fontSize": 26, "color": "#000000", "dy": -4},
     "encoding": {"text": {"field": "label"}}},
    {
      "width": 619, "height": 495, "view": {"stroke": "#000000", "strokeWidth": 2.6},
      "resolve": {"scale": {"x": "independent"}},
      "layer": [
        {
          "data": {"values": [{}]},
          "layer": [
            {"mark": {"type": "rect", "fill": "#ffffff", "stroke": "#111111", "strokeWidth": 2}, "encoding": {"x": {"datum": -0.07, "scale": {"domain": [-0.3765, 10.314], "nice": false, "zero": false}}, "x2": {"datum": 10.0}, "y": {"datum": 29.57, "scale": {"domain": [-93.35, 49.71], "nice": false, "zero": false}}, "y2": {"datum": -77.9}}},
            {"mark": {"type": "rect", "fill": "#ffffff", "stroke": "#111111", "strokeWidth": 1.5, "cornerRadiusTopLeft": 6, "cornerRadiusTopRight": 6}, "encoding": {"x": {"datum": -0.083, "scale": {"domain": [-0.3765, 10.314], "nice": false, "zero": false}}, "x2": {"datum": 1.558}, "y": {"datum": 47.98, "scale": {"domain": [-93.35, 49.71], "nice": false, "zero": false}}, "y2": {"datum": 41.42}}},
            {"mark": {"type": "rule", "color": "#ffffff", "strokeWidth": 3}, "encoding": {"x": {"datum": -0.06, "scale": {"domain": [-0.3765, 10.314], "nice": false, "zero": false}}, "x2": {"datum": 1.535}, "y": {"datum": 41.42, "scale": {"domain": [-93.35, 49.71], "nice": false, "zero": false}}}},
            {"mark": {"type": "rule", "color": "#111111", "strokeWidth": 1.5}, "encoding": {"x": {"datum": 1.545, "scale": {"domain": [-0.3765, 10.314], "nice": false, "zero": false}}, "x2": {"datum": 10.0}, "y": {"datum": 41.42, "scale": {"domain": [-93.35, 49.71], "nice": false, "zero": false}}}},
            {"mark": {"type": "rect", "fill": "#ffffff", "stroke": "#222222", "strokeWidth": 1.1, "cornerRadius": 3}, "encoding": {"x": {"datum": 9.64, "scale": {"domain": [-0.3765, 10.314], "nice": false, "zero": false}}, "x2": {"datum": 9.98}, "y": {"datum": 48.55, "scale": {"domain": [-93.35, 49.71], "nice": false, "zero": false}}, "y2": {"datum": 42.2}}},
            {"mark": {"type": "rect", "fill": "#333333"}, "encoding": {"x": {"datum": 9.72, "scale": {"domain": [-0.3765, 10.314], "nice": false, "zero": false}}, "x2": {"datum": 9.9}, "y": {"datum": 47.4, "scale": {"domain": [-93.35, 49.71], "nice": false, "zero": false}}, "y2": {"datum": 45.9}}},
            {"mark": {"type": "text", "text": "▽", "fontSize": 9, "color": "#222222"}, "encoding": {"x": {"datum": 9.81, "scale": {"domain": [-0.3765, 10.314], "nice": false, "zero": false}}, "y": {"datum": 44.1, "scale": {"domain": [-93.35, 49.71], "nice": false, "zero": false}}}},
            {"mark": {"type": "text", "text": "Spectrum", "align": "left", "fontSize": 11.5, "color": "#8c8c8c"}, "encoding": {"x": {"datum": 0.12, "scale": {"domain": [-0.3765, 10.314], "nice": false, "zero": false}}, "y": {"datum": 44.5, "scale": {"domain": [-93.35, 49.71], "nice": false, "zero": false}}}},
            {"mark": {"type": "text", "text": ["Ref Level", "Att"], "align": "left", "fontSize": 9, "fontWeight": "bold", "lineHeight": 14}, "encoding": {"x": {"datum": 0.19, "scale": {"domain": [-0.3765, 10.314], "nice": false, "zero": false}}, "y": {"datum": 39.5, "scale": {"domain": [-93.35, 49.71], "nice": false, "zero": false}}}},
            {"mark": {"type": "text", "text": ["25.00 dBm", "30 dB"], "align": "right", "font": "Liberation Sans", "fontSize": 10.5, "lineHeight": 14}, "encoding": {"x": {"datum": 1.99, "scale": {"domain": [-0.3765, 10.314], "nice": false, "zero": false}}, "y": {"datum": 39.5, "scale": {"domain": [-93.35, 49.71], "nice": false, "zero": false}}}},
            {"mark": {"type": "text", "text": "Offset", "align": "left", "fontSize": 9, "fontWeight": "bold"}, "encoding": {"x": {"datum": 2.33, "scale": {"domain": [-0.3765, 10.314], "nice": false, "zero": false}}, "y": {"datum": 39.5, "scale": {"domain": [-93.35, 49.71], "nice": false, "zero": false}}}},
            {"mark": {"type": "text", "text": "SWT", "align": "left", "fontSize": 9, "fontWeight": "bold"}, "encoding": {"x": {"datum": 2.33, "scale": {"domain": [-0.3765, 10.314], "nice": false, "zero": false}}, "y": {"datum": 35.46, "scale": {"domain": [-93.35, 49.71], "nice": false, "zero": false}}}},
            {"mark": {"type": "text", "text": ["10.50 dB", "3 ms"], "align": "right", "font": "Liberation Sans", "fontSize": 10.5, "lineHeight": 14}, "encoding": {"x": {"datum": 3.763, "scale": {"domain": [-0.3765, 10.314], "nice": false, "zero": false}}, "y": {"datum": 39.5, "scale": {"domain": [-93.35, 49.71], "nice": false, "zero": false}}}},
            {"mark": {"type": "text", "text": ["RBW", "VBW"], "align": "left", "fontSize": 9, "fontWeight": "bold", "lineHeight": 14}, "encoding": {"x": {"datum": 4.06, "scale": {"domain": [-0.3765, 10.314], "nice": false, "zero": false}}, "y": {"datum": 39.5, "scale": {"domain": [-93.35, 49.71], "nice": false, "zero": false}}}},
            {"mark": {"type": "text", "text": ["1 MHz", "3 MHz"], "align": "left", "font": "Liberation Sans", "fontSize": 10.5, "lineHeight": 14}, "encoding": {"x": {"datum": 4.61, "scale": {"domain": [-0.3765, 10.314], "nice": false, "zero": false}}, "y": {"datum": 39.5, "scale": {"domain": [-93.35, 49.71], "nice": false, "zero": false}}}},
            {"mark": {"type": "text", "text": ["●", "●"], "fontSize": 8, "color": "#4f9f4f", "lineHeight": 14}, "encoding": {"x": {"datum": 3.88, "scale": {"domain": [-0.3765, 10.314], "nice": false, "zero": false}}, "y": {"datum": 39.5, "scale": {"domain": [-93.35, 49.71], "nice": false, "zero": false}}}},
            {"mark": {"type": "text", "text": "●", "fontSize": 8, "color": "#4f9f4f"}, "encoding": {"x": {"datum": 0.01, "scale": {"domain": [-0.3765, 10.314], "nice": false, "zero": false}}, "y": {"datum": 35.46, "scale": {"domain": [-93.35, 49.71], "nice": false, "zero": false}}}},
            {"mark": {"type": "text", "text": "●", "fontSize": 8, "color": "#4f9f4f"}, "encoding": {"x": {"datum": 2.22, "scale": {"domain": [-0.3765, 10.314], "nice": false, "zero": false}}, "y": {"datum": 35.46, "scale": {"domain": [-93.35, 49.71], "nice": false, "zero": false}}}},
            {"mark": {"type": "text", "text": "SGL TRG:VID", "align": "left", "fontSize": 9.6}, "encoding": {"x": {"datum": 0.09, "scale": {"domain": [-0.3765, 10.314], "nice": false, "zero": false}}, "y": {"datum": 31.3, "scale": {"domain": [-93.35, 49.71], "nice": false, "zero": false}}}},
            {"mark": {"type": "text", "text": "●", "fontSize": 9, "color": "#1f2fd0"}, "encoding": {"x": {"datum": 0.03, "scale": {"domain": [-0.3765, 10.314], "nice": false, "zero": false}}, "y": {"datum": 27.2, "scale": {"domain": [-93.35, 49.71], "nice": false, "zero": false}}}},
            {"mark": {"type": "text", "text": "1Pk Clrw", "align": "left", "fontSize": 10}, "encoding": {"x": {"datum": 0.09, "scale": {"domain": [-0.3765, 10.314], "nice": false, "zero": false}}, "y": {"datum": 27.2, "scale": {"domain": [-93.35, 49.71], "nice": false, "zero": false}}}},
            {"data": {"name": "vgrid"}, "mark": {"type": "rule"}, "encoding": {"x": {"field": "div", "type": "quantitative", "scale": {"domain": [-0.3765, 10.314], "nice": false, "zero": false}}, "y": {"datum": 25, "scale": {"domain": [-93.35, 49.71], "nice": false, "zero": false}}, "y2": {"datum": -75}}},
            {"data": {"name": "hgrid"}, "mark": {"type": "rule"}, "encoding": {"y": {"field": "dbm", "type": "quantitative", "scale": {"domain": [-93.35, 49.71], "nice": false, "zero": false}}, "x": {"datum": 0.03, "scale": {"domain": [-0.3765, 10.314], "nice": false, "zero": false}}, "x2": {"datum": 10}}},
            {"mark": {"type": "rule", "color": "#111111", "strokeWidth": 1.5}, "encoding": {"x": {"datum": -0.07, "scale": {"domain": [-0.3765, 10.314], "nice": false, "zero": false}}, "x2": {"datum": 10.0}, "y": {"datum": -75, "scale": {"domain": [-93.35, 49.71], "nice": false, "zero": false}}}},
            {"mark": {"type": "rect", "fill": "#ffffff"}, "encoding": {"x": {"datum": 5.8, "scale": {"domain": [-0.3765, 10.314], "nice": false, "zero": false}}, "x2": {"datum": 9.97}, "y": {"datum": 25.3, "scale": {"domain": [-93.35, 49.71], "nice": false, "zero": false}}, "y2": {"datum": 9.65}}},
            {"mark": {"type": "rule", "color": "#a0a0a0", "strokeWidth": 1.5}, "encoding": {"x": {"datum": -0.07, "scale": {"domain": [-0.3765, 10.314], "nice": false, "zero": false}}, "x2": {"datum": 10.0}, "y": {"datum": 25, "scale": {"domain": [-93.35, 49.71], "nice": false, "zero": false}}}},
            {"mark": {"type": "rule", "color": "#e3302a", "strokeWidth": 1.2}, "encoding": {"x": {"datum": -0.06, "scale": {"domain": [-0.3765, 10.314], "nice": false, "zero": false}}, "x2": {"datum": 9.99}, "y": {"datum": -4.2, "scale": {"domain": [-93.35, 49.71], "nice": false, "zero": false}}}},
            {"data": {"name": "hgrid"}, "mark": {"type": "text", "align": "left", "color": "#ffffff", "stroke": "#ffffff", "strokeWidth": 4}, "encoding": {"x": {"datum": 0.05, "scale": {"domain": [-0.3765, 10.314], "nice": false, "zero": false}}, "y": {"field": "dbm", "type": "quantitative", "scale": {"domain": [-93.35, 49.71], "nice": false, "zero": false}}, "text": {"field": "label"}}},
            {"data": {"name": "hgrid"}, "mark": {"type": "text", "align": "left", "color": "#111111"}, "encoding": {"x": {"datum": 0.05, "scale": {"domain": [-0.3765, 10.314], "nice": false, "zero": false}}, "y": {"field": "dbm", "type": "quantitative", "scale": {"domain": [-93.35, 49.71], "nice": false, "zero": false}}, "text": {"field": "label"}}},
            {"mark": {"type": "text", "text": "TRG\u00a0 -4.200 dBm", "align": "left", "color": "#ffffff", "stroke": "#ffffff", "strokeWidth": 6}, "encoding": {"x": {"datum": 1.03, "scale": {"domain": [-0.3765, 10.314], "nice": false, "zero": false}}, "y": {"datum": -4.6, "scale": {"domain": [-93.35, 49.71], "nice": false, "zero": false}}}},
            {"mark": {"type": "text", "text": "TRG\u00a0 -4.200 dBm", "align": "left", "color": "#e3302a"}, "encoding": {"x": {"datum": 1.03, "scale": {"domain": [-0.3765, 10.314], "nice": false, "zero": false}}, "y": {"datum": -4.6, "scale": {"domain": [-93.35, 49.71], "nice": false, "zero": false}}}},
            {"mark": {"type": "text", "text": "M1[1]", "align": "left", "font": "DejaVu Sans Mono", "fontSize": 10, "fontWeight": "bold", "color": "#1b95d4"}, "encoding": {"x": {"datum": 5.836, "scale": {"domain": [-0.3765, 10.314], "nice": false, "zero": false}}, "y": {"datum": 22.6, "scale": {"domain": [-93.35, 49.71], "nice": false, "zero": false}}}},
            {"mark": {"type": "text", "text": "D2[1]", "align": "left", "font": "DejaVu Sans Mono", "fontSize": 10, "fontWeight": "bold", "color": "#1b95d4"}, "encoding": {"x": {"datum": 5.836, "scale": {"domain": [-0.3765, 10.314], "nice": false, "zero": false}}, "y": {"datum": 15.2, "scale": {"domain": [-93.35, 49.71], "nice": false, "zero": false}}}},
            {"mark": {"type": "text", "text": ["-12.74 dBm", "-6.00 µs", "10.44 dB", "1.65600 ms"], "align": "right", "font": "DejaVu Sans Mono", "fontSize": 10.5, "fontWeight": "bold", "color": "#1b95d4", "lineHeight": 12.8}, "encoding": {"x": {"datum": 9.97, "scale": {"domain": [-0.3765, 10.314], "nice": false, "zero": false}}, "y": {"datum": 22.6, "scale": {"domain": [-93.35, 49.71], "nice": false, "zero": false}}}},
            {"mark": {"type": "text", "text": "CF 2.441 GHz", "align": "left", "font": "DejaVu Sans Mono", "fontSize": 9.8, "fontWeight": "bold"}, "encoding": {"x": {"datum": 0.04, "scale": {"domain": [-0.3765, 10.314], "nice": false, "zero": false}}, "y": {"datum": -76.3, "scale": {"domain": [-93.35, 49.71], "nice": false, "zero": false}}}},
            {"mark": {"type": "text", "text": "501 pts", "font": "DejaVu Sans Mono", "fontSize": 9.8, "fontWeight": "bold"}, "encoding": {"x": {"datum": 4.96, "scale": {"domain": [-0.3765, 10.314], "nice": false, "zero": false}}, "y": {"datum": -76.3, "scale": {"domain": [-93.35, 49.71], "nice": false, "zero": false}}}},
            {"mark": {"type": "text", "text": "300.0 µs/", "align": "right", "font": "DejaVu Sans Mono", "fontSize": 9.8, "fontWeight": "bold"}, "encoding": {"x": {"datum": 9.86, "scale": {"domain": [-0.3765, 10.314], "nice": false, "zero": false}}, "y": {"datum": -76.3, "scale": {"domain": [-93.35, 49.71], "nice": false, "zero": false}}}},
            {"mark": {"type": "text", "text": "Date: 18.DEC.2023\u00a0 15:55:05", "align": "left", "font": "Liberation Mono", "fontSize": 9.8, "color": "#333333"}, "encoding": {"x": {"datum": -0.09, "scale": {"domain": [-0.3765, 10.314], "nice": false, "zero": false}}, "y": {"datum": -88.6, "scale": {"domain": [-93.35, 49.71], "nice": false, "zero": false}}}}
          ]
        },
        {
          "data": {"name": "trace2"},
          "layer": [
            {"mark": {"type": "line", "color": "#1c1cd6", "strokeWidth": 1.1}, "encoding": {"x": {"field": "t", "type": "quantitative", "scale": {"domain": [-112.95, 3094.2], "nice": false, "zero": false}}, "y": {"field": "p", "type": "quantitative", "scale": {"domain": [-93.35, 49.71], "nice": false, "zero": false}}}},
            {"data": {"values": [{"m": "M1", "t": 742, "p": -12.74}]}, "mark": {"type": "point", "shape": "triangle-down", "filled": true, "opacity": 1, "size": 45, "color": "#1b95d4", "yOffset": -5}, "encoding": {"x": {"field": "t", "type": "quantitative", "scale": {"domain": [-112.95, 3094.2], "nice": false, "zero": false}}, "y": {"field": "p", "type": "quantitative", "scale": {"domain": [-93.35, 49.71], "nice": false, "zero": false}}}},
            {"data": {"values": [{"m": "M1", "t": 742, "p": -12.74}]}, "mark": {"type": "text", "fontSize": 9, "color": "#3aa0d8", "dy": -14}, "encoding": {"x": {"field": "t", "type": "quantitative", "scale": {"domain": [-112.95, 3094.2], "nice": false, "zero": false}}, "y": {"field": "p", "type": "quantitative", "scale": {"domain": [-93.35, 49.71], "nice": false, "zero": false}}, "text": {"field": "m"}}},
            {"data": {"values": [{"m": "D2", "t": 2398, "p": -2.3}]}, "mark": {"type": "point", "shape": "triangle-up", "filled": true, "opacity": 1, "size": 16, "color": "#1b95d4", "yOffset": 3}, "encoding": {"x": {"field": "t", "type": "quantitative", "scale": {"domain": [-112.95, 3094.2], "nice": false, "zero": false}}, "y": {"field": "p", "type": "quantitative", "scale": {"domain": [-93.35, 49.71], "nice": false, "zero": false}}}},
            {"data": {"values": [{"m": "D2", "t": 2398, "p": -2.3}]}, "mark": {"type": "text", "fontSize": 9, "color": "#3aa0d8", "dx": 3, "dy": -8}, "encoding": {"x": {"field": "t", "type": "quantitative", "scale": {"domain": [-112.95, 3094.2], "nice": false, "zero": false}}, "y": {"field": "p", "type": "quantitative", "scale": {"domain": [-93.35, 49.71], "nice": false, "zero": false}}, "text": {"field": "m"}}}
          ]
        }
      ]
    },
    {"width": 617, "height": 495, "view": {"stroke": "#000000", "strokeWidth": 2.6},
     "data": {"values": [{"label": "/"}]},
     "mark": {"type": "text", "font": "Liberation Sans", "fontSize": 26, "color": "#000000"},
     "encoding": {"text": {"field": "label"}}},
    {"width": 619, "height": 53, "view": {"stroke": "#000000", "strokeWidth": 2.6},
     "data": {"values": [{"label": "High channel"}]},
     "mark": {"type": "text", "font": "Liberation Sans", "fontSize": 26, "color": "#000000", "dy": -4},
     "encoding": {"text": {"field": "label"}}},
    {"width": 617, "height": 53, "view": {"stroke": "#000000", "strokeWidth": 2.6},
     "data": {"values": [{"label": "/"}]},
     "mark": {"type": "text", "font": "Liberation Sans", "fontSize": 26, "color": "#000000", "dy": -4},
     "encoding": {"text": {"field": "label"}}},
    {
      "width": 619, "height": 490, "view": {"stroke": "#000000", "strokeWidth": 2.6},
      "resolve": {"scale": {"x": "independent"}},
      "layer": [
        {
          "data": {"values": [{}]},
          "layer": [
            {"mark": {"type": "rect", "fill": "#ffffff", "stroke": "#111111", "strokeWidth": 2}, "encoding": {"x": {"datum": -0.07, "scale": {"domain": [-0.3765, 10.314], "nice": false, "zero": false}}, "x2": {"datum": 10.0}, "y": {"datum": 29.57, "scale": {"domain": [-91.91, 49.71], "nice": false, "zero": false}}, "y2": {"datum": -77.9}}},
            {"mark": {"type": "rect", "fill": "#ffffff", "stroke": "#111111", "strokeWidth": 1.5, "cornerRadiusTopLeft": 6, "cornerRadiusTopRight": 6}, "encoding": {"x": {"datum": -0.083, "scale": {"domain": [-0.3765, 10.314], "nice": false, "zero": false}}, "x2": {"datum": 1.558}, "y": {"datum": 47.98, "scale": {"domain": [-91.91, 49.71], "nice": false, "zero": false}}, "y2": {"datum": 41.42}}},
            {"mark": {"type": "rule", "color": "#ffffff", "strokeWidth": 3}, "encoding": {"x": {"datum": -0.06, "scale": {"domain": [-0.3765, 10.314], "nice": false, "zero": false}}, "x2": {"datum": 1.535}, "y": {"datum": 41.42, "scale": {"domain": [-91.91, 49.71], "nice": false, "zero": false}}}},
            {"mark": {"type": "rule", "color": "#111111", "strokeWidth": 1.5}, "encoding": {"x": {"datum": 1.545, "scale": {"domain": [-0.3765, 10.314], "nice": false, "zero": false}}, "x2": {"datum": 10.0}, "y": {"datum": 41.42, "scale": {"domain": [-91.91, 49.71], "nice": false, "zero": false}}}},
            {"mark": {"type": "rect", "fill": "#ffffff", "stroke": "#222222", "strokeWidth": 1.1, "cornerRadius": 3}, "encoding": {"x": {"datum": 9.64, "scale": {"domain": [-0.3765, 10.314], "nice": false, "zero": false}}, "x2": {"datum": 9.98}, "y": {"datum": 48.55, "scale": {"domain": [-91.91, 49.71], "nice": false, "zero": false}}, "y2": {"datum": 42.2}}},
            {"mark": {"type": "rect", "fill": "#333333"}, "encoding": {"x": {"datum": 9.72, "scale": {"domain": [-0.3765, 10.314], "nice": false, "zero": false}}, "x2": {"datum": 9.9}, "y": {"datum": 47.4, "scale": {"domain": [-91.91, 49.71], "nice": false, "zero": false}}, "y2": {"datum": 45.9}}},
            {"mark": {"type": "text", "text": "▽", "fontSize": 9, "color": "#222222"}, "encoding": {"x": {"datum": 9.81, "scale": {"domain": [-0.3765, 10.314], "nice": false, "zero": false}}, "y": {"datum": 44.1, "scale": {"domain": [-91.91, 49.71], "nice": false, "zero": false}}}},
            {"mark": {"type": "text", "text": "Spectrum", "align": "left", "fontSize": 11.5, "color": "#8c8c8c"}, "encoding": {"x": {"datum": 0.12, "scale": {"domain": [-0.3765, 10.314], "nice": false, "zero": false}}, "y": {"datum": 44.5, "scale": {"domain": [-91.91, 49.71], "nice": false, "zero": false}}}},
            {"mark": {"type": "text", "text": ["Ref Level", "Att"], "align": "left", "fontSize": 9, "fontWeight": "bold", "lineHeight": 14}, "encoding": {"x": {"datum": 0.19, "scale": {"domain": [-0.3765, 10.314], "nice": false, "zero": false}}, "y": {"datum": 39.5, "scale": {"domain": [-91.91, 49.71], "nice": false, "zero": false}}}},
            {"mark": {"type": "text", "text": ["25.00 dBm", "30 dB"], "align": "right", "font": "Liberation Sans", "fontSize": 10.5, "lineHeight": 14}, "encoding": {"x": {"datum": 1.99, "scale": {"domain": [-0.3765, 10.314], "nice": false, "zero": false}}, "y": {"datum": 39.5, "scale": {"domain": [-91.91, 49.71], "nice": false, "zero": false}}}},
            {"mark": {"type": "text", "text": "Offset", "align": "left", "fontSize": 9, "fontWeight": "bold"}, "encoding": {"x": {"datum": 2.33, "scale": {"domain": [-0.3765, 10.314], "nice": false, "zero": false}}, "y": {"datum": 39.5, "scale": {"domain": [-91.91, 49.71], "nice": false, "zero": false}}}},
            {"mark": {"type": "text", "text": "SWT", "align": "left", "fontSize": 9, "fontWeight": "bold"}, "encoding": {"x": {"datum": 2.33, "scale": {"domain": [-0.3765, 10.314], "nice": false, "zero": false}}, "y": {"datum": 35.46, "scale": {"domain": [-91.91, 49.71], "nice": false, "zero": false}}}},
            {"mark": {"type": "text", "text": ["10.50 dB", "5 ms"], "align": "right", "font": "Liberation Sans", "fontSize": 10.5, "lineHeight": 14}, "encoding": {"x": {"datum": 3.763, "scale": {"domain": [-0.3765, 10.314], "nice": false, "zero": false}}, "y": {"datum": 39.5, "scale": {"domain": [-91.91, 49.71], "nice": false, "zero": false}}}},
            {"mark": {"type": "text", "text": ["RBW", "VBW"], "align": "left", "fontSize": 9, "fontWeight": "bold", "lineHeight": 14}, "encoding": {"x": {"datum": 4.06, "scale": {"domain": [-0.3765, 10.314], "nice": false, "zero": false}}, "y": {"datum": 39.5, "scale": {"domain": [-91.91, 49.71], "nice": false, "zero": false}}}},
            {"mark": {"type": "text", "text": ["1 MHz", "3 MHz"], "align": "left", "font": "Liberation Sans", "fontSize": 10.5, "lineHeight": 14}, "encoding": {"x": {"datum": 4.61, "scale": {"domain": [-0.3765, 10.314], "nice": false, "zero": false}}, "y": {"datum": 39.5, "scale": {"domain": [-91.91, 49.71], "nice": false, "zero": false}}}},
            {"mark": {"type": "text", "text": ["●", "●"], "fontSize": 8, "color": "#4f9f4f", "lineHeight": 14}, "encoding": {"x": {"datum": 3.88, "scale": {"domain": [-0.3765, 10.314], "nice": false, "zero": false}}, "y": {"datum": 39.5, "scale": {"domain": [-91.91, 49.71], "nice": false, "zero": false}}}},
            {"mark": {"type": "text", "text": "●", "fontSize": 8, "color": "#4f9f4f"}, "encoding": {"x": {"datum": 0.01, "scale": {"domain": [-0.3765, 10.314], "nice": false, "zero": false}}, "y": {"datum": 35.46, "scale": {"domain": [-91.91, 49.71], "nice": false, "zero": false}}}},
            {"mark": {"type": "text", "text": "●", "fontSize": 8, "color": "#4f9f4f"}, "encoding": {"x": {"datum": 2.22, "scale": {"domain": [-0.3765, 10.314], "nice": false, "zero": false}}, "y": {"datum": 35.46, "scale": {"domain": [-91.91, 49.71], "nice": false, "zero": false}}}},
            {"mark": {"type": "text", "text": "SGL TRG:VID", "align": "left", "fontSize": 9.6}, "encoding": {"x": {"datum": 0.09, "scale": {"domain": [-0.3765, 10.314], "nice": false, "zero": false}}, "y": {"datum": 31.3, "scale": {"domain": [-91.91, 49.71], "nice": false, "zero": false}}}},
            {"mark": {"type": "text", "text": "●", "fontSize": 9, "color": "#1f2fd0"}, "encoding": {"x": {"datum": 0.03, "scale": {"domain": [-0.3765, 10.314], "nice": false, "zero": false}}, "y": {"datum": 27.2, "scale": {"domain": [-91.91, 49.71], "nice": false, "zero": false}}}},
            {"mark": {"type": "text", "text": "1Pk Clrw", "align": "left", "fontSize": 10}, "encoding": {"x": {"datum": 0.09, "scale": {"domain": [-0.3765, 10.314], "nice": false, "zero": false}}, "y": {"datum": 27.2, "scale": {"domain": [-91.91, 49.71], "nice": false, "zero": false}}}},
            {"data": {"name": "vgrid"}, "mark": {"type": "rule"}, "encoding": {"x": {"field": "div", "type": "quantitative", "scale": {"domain": [-0.3765, 10.314], "nice": false, "zero": false}}, "y": {"datum": 25, "scale": {"domain": [-91.91, 49.71], "nice": false, "zero": false}}, "y2": {"datum": -75}}},
            {"data": {"name": "hgrid"}, "mark": {"type": "rule"}, "encoding": {"y": {"field": "dbm", "type": "quantitative", "scale": {"domain": [-91.91, 49.71], "nice": false, "zero": false}}, "x": {"datum": 0.03, "scale": {"domain": [-0.3765, 10.314], "nice": false, "zero": false}}, "x2": {"datum": 10}}},
            {"mark": {"type": "rule", "color": "#111111", "strokeWidth": 1.5}, "encoding": {"x": {"datum": -0.07, "scale": {"domain": [-0.3765, 10.314], "nice": false, "zero": false}}, "x2": {"datum": 10.0}, "y": {"datum": -75, "scale": {"domain": [-91.91, 49.71], "nice": false, "zero": false}}}},
            {"mark": {"type": "rect", "fill": "#ffffff"}, "encoding": {"x": {"datum": 5.8, "scale": {"domain": [-0.3765, 10.314], "nice": false, "zero": false}}, "x2": {"datum": 9.97}, "y": {"datum": 25.3, "scale": {"domain": [-91.91, 49.71], "nice": false, "zero": false}}, "y2": {"datum": 9.65}}},
            {"mark": {"type": "rule", "color": "#a0a0a0", "strokeWidth": 1.5}, "encoding": {"x": {"datum": -0.07, "scale": {"domain": [-0.3765, 10.314], "nice": false, "zero": false}}, "x2": {"datum": 10.0}, "y": {"datum": 25, "scale": {"domain": [-91.91, 49.71], "nice": false, "zero": false}}}},
            {"mark": {"type": "rule", "color": "#e3302a", "strokeWidth": 1.2}, "encoding": {"x": {"datum": -0.06, "scale": {"domain": [-0.3765, 10.314], "nice": false, "zero": false}}, "x2": {"datum": 9.99}, "y": {"datum": -4.1, "scale": {"domain": [-91.91, 49.71], "nice": false, "zero": false}}}},
            {"data": {"name": "hgrid"}, "mark": {"type": "text", "align": "left", "color": "#ffffff", "stroke": "#ffffff", "strokeWidth": 4}, "encoding": {"x": {"datum": 0.05, "scale": {"domain": [-0.3765, 10.314], "nice": false, "zero": false}}, "y": {"field": "dbm", "type": "quantitative", "scale": {"domain": [-91.91, 49.71], "nice": false, "zero": false}}, "text": {"field": "label"}}},
            {"data": {"name": "hgrid"}, "mark": {"type": "text", "align": "left", "color": "#111111"}, "encoding": {"x": {"datum": 0.05, "scale": {"domain": [-0.3765, 10.314], "nice": false, "zero": false}}, "y": {"field": "dbm", "type": "quantitative", "scale": {"domain": [-91.91, 49.71], "nice": false, "zero": false}}, "text": {"field": "label"}}},
            {"mark": {"type": "text", "text": "TRG\u00a0 -4.100 dBm", "align": "left", "color": "#ffffff", "stroke": "#ffffff", "strokeWidth": 6}, "encoding": {"x": {"datum": 1.03, "scale": {"domain": [-0.3765, 10.314], "nice": false, "zero": false}}, "y": {"datum": -4.5, "scale": {"domain": [-91.91, 49.71], "nice": false, "zero": false}}}},
            {"mark": {"type": "text", "text": "TRG\u00a0 -4.100 dBm", "align": "left", "color": "#e3302a"}, "encoding": {"x": {"datum": 1.03, "scale": {"domain": [-0.3765, 10.314], "nice": false, "zero": false}}, "y": {"datum": -4.5, "scale": {"domain": [-91.91, 49.71], "nice": false, "zero": false}}}},
            {"mark": {"type": "text", "text": "M1[1]", "align": "left", "font": "DejaVu Sans Mono", "fontSize": 10, "fontWeight": "bold", "color": "#1b95d4"}, "encoding": {"x": {"datum": 5.836, "scale": {"domain": [-0.3765, 10.314], "nice": false, "zero": false}}, "y": {"datum": 22.6, "scale": {"domain": [-91.91, 49.71], "nice": false, "zero": false}}}},
            {"mark": {"type": "text", "text": "D2[1]", "align": "left", "font": "DejaVu Sans Mono", "fontSize": 10, "fontWeight": "bold", "color": "#1b95d4"}, "encoding": {"x": {"datum": 5.836, "scale": {"domain": [-0.3765, 10.314], "nice": false, "zero": false}}, "y": {"datum": 15.2, "scale": {"domain": [-91.91, 49.71], "nice": false, "zero": false}}}},
            {"mark": {"type": "text", "text": ["-7.56 dBm", "-10.00 µs", "5.28 dB", "2.91000 ms"], "align": "right", "font": "DejaVu Sans Mono", "fontSize": 10.5, "fontWeight": "bold", "color": "#1b95d4", "lineHeight": 12.8}, "encoding": {"x": {"datum": 9.97, "scale": {"domain": [-0.3765, 10.314], "nice": false, "zero": false}}, "y": {"datum": 22.6, "scale": {"domain": [-91.91, 49.71], "nice": false, "zero": false}}}},
            {"mark": {"type": "text", "text": "CF 2.441 GHz", "align": "left", "font": "DejaVu Sans Mono", "fontSize": 9.8, "fontWeight": "bold"}, "encoding": {"x": {"datum": 0.04, "scale": {"domain": [-0.3765, 10.314], "nice": false, "zero": false}}, "y": {"datum": -76.3, "scale": {"domain": [-91.91, 49.71], "nice": false, "zero": false}}}},
            {"mark": {"type": "text", "text": "501 pts", "font": "DejaVu Sans Mono", "fontSize": 9.8, "fontWeight": "bold"}, "encoding": {"x": {"datum": 4.96, "scale": {"domain": [-0.3765, 10.314], "nice": false, "zero": false}}, "y": {"datum": -76.3, "scale": {"domain": [-91.91, 49.71], "nice": false, "zero": false}}}},
            {"mark": {"type": "text", "text": "500.0 µs/", "align": "right", "font": "DejaVu Sans Mono", "fontSize": 9.8, "fontWeight": "bold"}, "encoding": {"x": {"datum": 9.86, "scale": {"domain": [-0.3765, 10.314], "nice": false, "zero": false}}, "y": {"datum": -76.3, "scale": {"domain": [-91.91, 49.71], "nice": false, "zero": false}}}},
            {"mark": {"type": "text", "text": "Date: 18.DEC.2023\u00a0 15:55:37", "align": "left", "font": "Liberation Mono", "fontSize": 9.8, "color": "#333333"}, "encoding": {"x": {"datum": -0.09, "scale": {"domain": [-0.3765, 10.314], "nice": false, "zero": false}}, "y": {"datum": -88.6, "scale": {"domain": [-91.91, 49.71], "nice": false, "zero": false}}}}
          ]
        },
        {
          "data": {"name": "trace3"},
          "layer": [
            {"mark": {"type": "line", "color": "#1c1cd6", "strokeWidth": 1.1}, "encoding": {"x": {"field": "t", "type": "quantitative", "scale": {"domain": [-188.25, 5157], "nice": false, "zero": false}}, "y": {"field": "p", "type": "quantitative", "scale": {"domain": [-91.91, 49.71], "nice": false, "zero": false}}}},
            {"data": {"values": [{"m": "M1", "t": 987, "p": -7.56}]}, "mark": {"type": "point", "shape": "triangle-down", "filled": true, "opacity": 1, "size": 45, "color": "#1b95d4", "yOffset": -5}, "encoding": {"x": {"field": "t", "type": "quantitative", "scale": {"domain": [-188.25, 5157], "nice": false, "zero": false}}, "y": {"field": "p", "type": "quantitative", "scale": {"domain": [-91.91, 49.71], "nice": false, "zero": false}}}},
            {"data": {"values": [{"m": "M1", "t": 987, "p": -7.56}]}, "mark": {"type": "text", "fontSize": 9, "color": "#3aa0d8", "dy": -14}, "encoding": {"x": {"field": "t", "type": "quantitative", "scale": {"domain": [-188.25, 5157], "nice": false, "zero": false}}, "y": {"field": "p", "type": "quantitative", "scale": {"domain": [-91.91, 49.71], "nice": false, "zero": false}}, "text": {"field": "m"}}},
            {"data": {"values": [{"m": "D2", "t": 3897, "p": -2.28}]}, "mark": {"type": "point", "shape": "triangle-up", "filled": true, "opacity": 1, "size": 16, "color": "#1b95d4", "yOffset": 3}, "encoding": {"x": {"field": "t", "type": "quantitative", "scale": {"domain": [-188.25, 5157], "nice": false, "zero": false}}, "y": {"field": "p", "type": "quantitative", "scale": {"domain": [-91.91, 49.71], "nice": false, "zero": false}}}},
            {"data": {"values": [{"m": "D2", "t": 3897, "p": -2.28}]}, "mark": {"type": "text", "fontSize": 9, "color": "#3aa0d8", "dx": 3, "dy": -8}, "encoding": {"x": {"field": "t", "type": "quantitative", "scale": {"domain": [-188.25, 5157], "nice": false, "zero": false}}, "y": {"field": "p", "type": "quantitative", "scale": {"domain": [-91.91, 49.71], "nice": false, "zero": false}}, "text": {"field": "m"}}}
          ]
        }
      ]
    },
    {"width": 617, "height": 490, "view": {"stroke": "#000000", "strokeWidth": 2.6},
     "data": {"values": [{"label": "/"}]},
     "mark": {"type": "text", "font": "Liberation Sans", "fontSize": 26, "color": "#000000"},
     "encoding": {"text": {"field": "label"}}}
  ]
}
